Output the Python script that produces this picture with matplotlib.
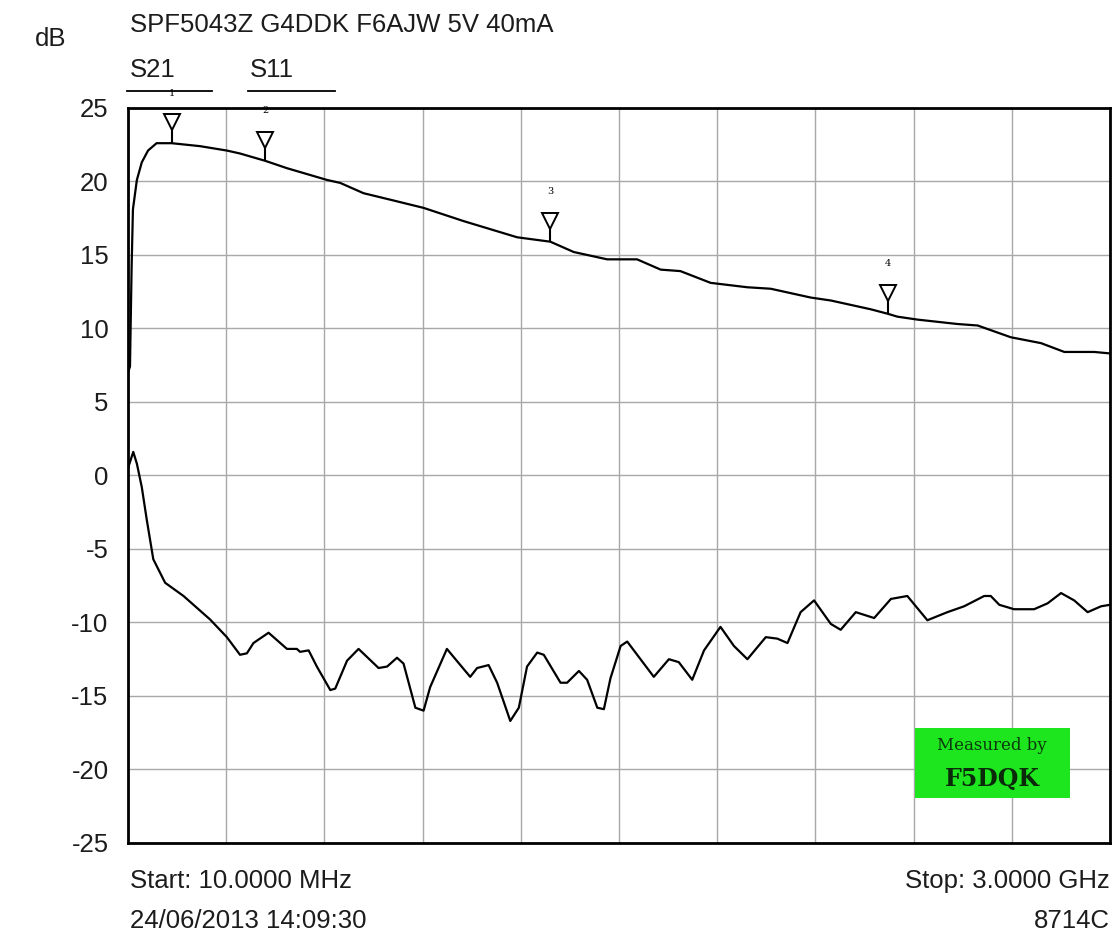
import numpy as np
import matplotlib
matplotlib.use("Agg")
import matplotlib.pyplot as plt
from matplotlib.transforms import offset_copy
from matplotlib.patches import Rectangle

plt.rcParams['font.family'] = ['Liberation Sans', 'DejaVu Sans']
plt.rcParams['axes.unicode_minus'] = False

# S21 trace (MHz, dB)
s21_freq = [10, 16, 21, 25, 37, 52, 71, 97, 143, 229, 311, 351, 428, 494, 616, 656,
            727, 819, 910, 1032, 1195, 1296, 1367, 1469, 1560, 1632, 1692, 1784, 1896,
            1967, 2089, 2150, 2272, 2323, 2353, 2414, 2536, 2597, 2698, 2790, 2861,
            2952, 3000]
s21_db = [7.0, 7.4, 14.2, 18.1, 20.1, 21.3, 22.1, 22.6, 22.6, 22.4, 22.1, 21.9, 21.4,
          20.9, 20.1, 19.9, 19.2, 18.7, 18.2, 17.3, 16.2, 15.9, 15.2, 14.7, 14.7, 14.0,
          13.9, 13.1, 12.8, 12.7, 12.1, 11.9, 11.3, 11.0, 10.8, 10.6, 10.3, 10.2, 9.4,
          9.0, 8.4, 8.4, 8.3]

# S11 trace (MHz, dB)
s11_freq = [10, 26, 37, 52, 67, 87, 123, 179, 260, 311, 351, 372, 392, 438, 494, 524,
            534, 560, 585, 626, 641, 677, 712, 773, 799, 829, 849, 885, 910, 930, 981,
            1022, 1052, 1073, 1108, 1134, 1174, 1200, 1225, 1256, 1276, 1327, 1347,
            1383, 1408, 1439, 1459, 1479, 1510, 1530, 1611, 1657, 1687, 1728, 1764,
            1814, 1855, 1896, 1952, 1987, 2018, 2058, 2099, 2150, 2180, 2226, 2282,
            2333, 2383, 2444, 2505, 2556, 2617, 2637, 2663, 2708, 2769, 2810, 2851,
            2891, 2932, 2973, 3000]
s11_db = [0.5, 1.6, 0.8, -0.8, -3.0, -5.7, -7.3, -8.2, -9.8, -11.0, -12.2, -12.1, -11.4,
          -10.7, -11.8, -11.8, -12.0, -11.9, -13.0, -14.6, -14.5, -12.6, -11.8, -13.1,
          -13.0, -12.4, -12.8, -15.8, -16.0, -14.4, -11.8, -12.9, -13.7, -13.1, -12.9,
          -14.1, -16.7, -15.8, -13.0, -12.05, -12.2, -14.1, -14.1, -13.3, -13.9, -15.8,
          -15.9, -13.8, -11.6, -11.3, -13.7, -12.5, -12.7, -13.9, -11.9, -10.3, -11.6,
          -12.5, -11.0, -11.1, -11.4, -9.3, -8.5, -10.1, -10.5, -9.3, -9.7, -8.4, -8.2,
          -9.85, -9.3, -8.9, -8.2, -8.2, -8.8, -9.1, -9.1, -8.7, -8.0, -8.5, -9.3,
          -8.9, -8.8]

marker_freq = [143, 428, 1296, 2323]
marker_db = [22.6, 21.4, 15.9, 11.0]
marker_labels = ['1', '2', '3', '4']

yticks = list(range(-25, 30, 5))

txt_color = '#1c1c1c'
fs = 18.5

fig = plt.figure(figsize=(11.16, 9.36), dpi=100)
ax = fig.add_axes([0.1147, 0.0994, 0.8799, 0.7853])

ax.set_xlim(10, 3000)
ax.set_ylim(-25, 25)
ax.set_xticks(np.linspace(10, 3000, 11))
ax.set_xticklabels([])
ax.set_yticks(yticks)
ax.set_yticklabels([str(t) for t in yticks], fontsize=fs, color=txt_color)
ax.tick_params(length=0, pad=14)
ax.grid(True, color='#a8a8a8', linewidth=1.0)
ax.set_axisbelow(True)
for sp in ax.spines.values():
    sp.set_linewidth(2.0)
    sp.set_color('black')

ax.plot(s21_freq, s21_db, color='black', linewidth=1.6)
ax.plot(s11_freq, s11_db, color='black', linewidth=1.6)

# marker symbols drawn above the trace points
tri_tr = offset_copy(ax.transData, fig=fig, x=0, y=21, units='dots')
stem_tr = offset_copy(ax.transData, fig=fig, x=0, y=7, units='dots')
lab_tr = offset_copy(ax.transData, fig=fig, x=0, y=50, units='dots')
ax.plot(marker_freq, marker_db, linestyle='none', marker='|', markersize=10,
        markeredgewidth=1.5, color='black', transform=stem_tr, clip_on=False)
ax.plot(marker_freq, marker_db, linestyle='none', marker='v', markersize=12,
        markerfacecolor='white', markeredgecolor='black', markeredgewidth=1.4,
        transform=tri_tr, clip_on=False)
for f, d, lab in zip(marker_freq, marker_db, marker_labels):
    ax.text(f, d, lab, transform=lab_tr, ha='center', va='center', fontsize=7,
            family='DejaVu Serif', clip_on=False)

# header texts
fig.text(0.1165, 0.9658, 'SPF5043Z G4DDK F6AJW 5V 40mA', fontsize=fs, va='baseline',
         ha='left', color=txt_color)
fig.text(0.031, 0.9509, 'dB', fontsize=fs, va='baseline', ha='left', color=txt_color)
fig.text(0.1165, 0.9177, 'S21', fontsize=fs, va='baseline', ha='left', color=txt_color)
fig.text(0.224, 0.9177, 'S11', fontsize=fs, va='baseline', ha='left', color=txt_color)
fig.add_artist(plt.Line2D([0.1138, 0.190], [0.9028, 0.9028], color='black', linewidth=1.3))
fig.add_artist(plt.Line2D([0.2222, 0.3002], [0.9028, 0.9028], color='black', linewidth=1.3))

# footer texts
fig.text(0.1165, 0.0513, 'Start: 10.0000 MHz', fontsize=fs, va='baseline', ha='left',
         color=txt_color)
fig.text(0.1165, 0.0086, '24/06/2013 14:09:30', fontsize=fs, va='baseline', ha='left',
         color=txt_color)
fig.text(0.9946, 0.0513, 'Stop: 3.0000 GHz', fontsize=fs, va='baseline', ha='right',
         color=txt_color)
fig.text(0.9946, 0.0086, '8714C', fontsize=fs, va='baseline', ha='right', color=txt_color)

# green stamp
box = Rectangle((0.8199, 0.1474), 0.1389, 0.0748, transform=fig.transFigure,
                facecolor='#1ee61e', edgecolor='none', zorder=5)
fig.add_artist(box)
fig.text(0.889, 0.2035, 'Measured by', fontsize=12, family='DejaVu Serif',
         color='#0a3a0a', ha='center', va='center', zorder=6)
fig.text(0.889, 0.168, 'F5DQK', fontsize=17, family='DejaVu Serif', weight='bold',
         color='#0a2a0a', ha='center', va='center', zorder=6)

fig.savefig('out.png', dpi=100, facecolor='white')
